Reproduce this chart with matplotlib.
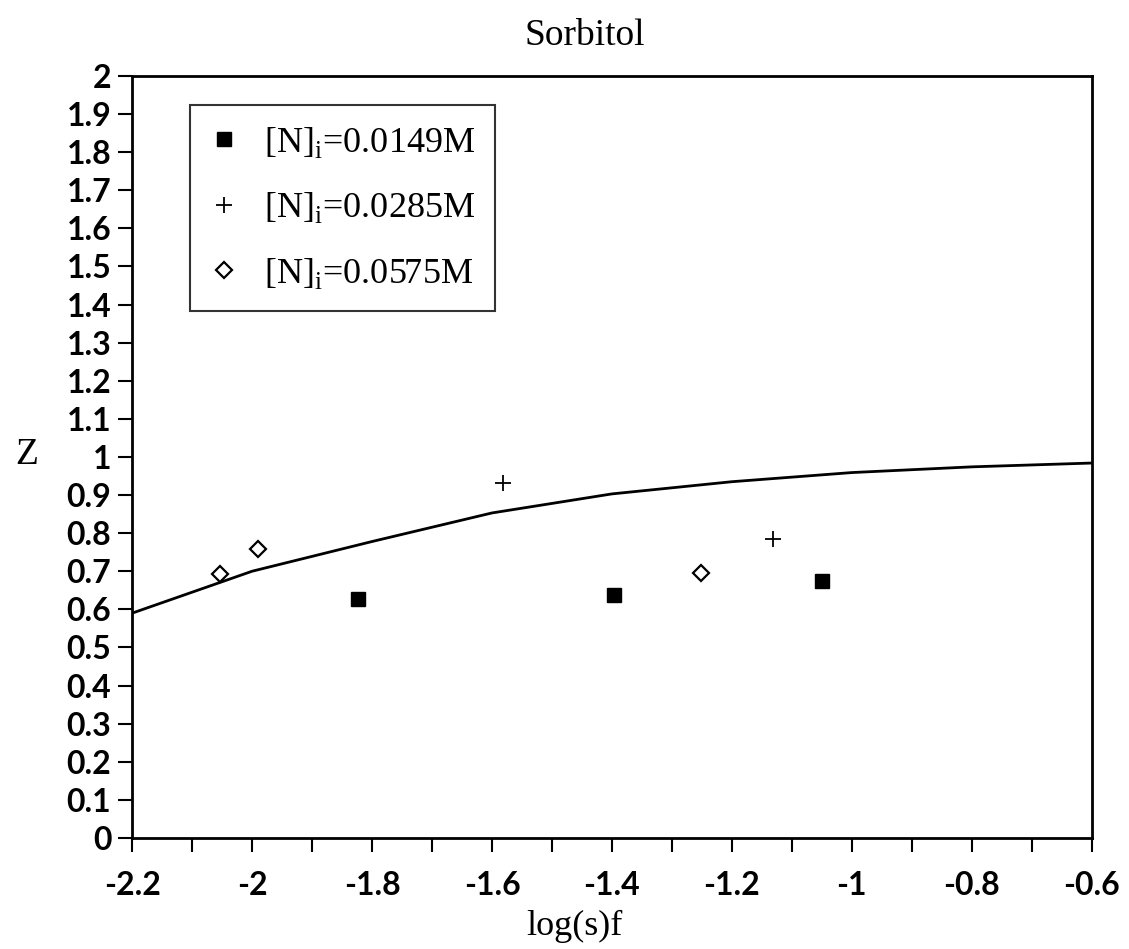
import matplotlib
matplotlib.use("Agg")
import matplotlib.pyplot as plt
from matplotlib.ticker import FixedLocator

# Data
sq_x = [-1.823, -1.397, -1.050]
sq_y = [0.627, 0.638, 0.675]
plus_x = [-1.582, -1.132]
plus_y = [0.932, 0.785]
dia_x = [-2.053, -1.990, -1.252]
dia_y = [0.693, 0.759, 0.696]
curve_x = [-2.2, -2.0, -1.8, -1.6, -1.4, -1.2, -1.0, -0.8, -0.6]
curve_y = [0.590, 0.700, 0.778, 0.853, 0.903, 0.935, 0.959, 0.974, 0.984]

x_major = [-2.2, -2.0, -1.8, -1.6, -1.4, -1.2, -1.0, -0.8, -0.6]
x_minor = [-2.1, -1.9, -1.7, -1.5, -1.3, -1.1, -0.9, -0.7]
x_ticklabels = ['-2.2', '-2', '-1.8', '-1.6', '-1.4', '-1.2', '-1', '-0.8', '-0.6']
y_ticks = [i / 10 for i in range(0, 21)]
y_ticklabels = ['%g' % v for v in y_ticks]

labels = [r"[N]$_\mathregular{i}$=0.0149M",
          r"[N]$_\mathregular{i}$=0.0285M",
          r"[N]$_\mathregular{i}$=0.0575M"]

serif = ["Liberation Serif", "DejaVu Serif"]
plt.rcParams['mathtext.fontset'] = 'custom'
plt.rcParams['mathtext.rm'] = 'Liberation Serif'

fig = plt.figure(figsize=(11.29, 9.49), dpi=100)
ax = fig.add_axes([0.117, 0.117, 0.850, 0.803])

ax.plot(curve_x, curve_y, color='black', lw=2.0)
h1, = ax.plot(sq_x, sq_y, 's', color='black', ms=10, ls='none', label=labels[0])
h2, = ax.plot(plus_x, plus_y, '+', color='black', ms=11, mew=1.3, ls='none', label=labels[1])
h3, = ax.plot(dia_x, dia_y, 'D', mfc='white', mec='black', ms=8, mew=1.6, ls='none', label=labels[2])

ax.set_xlim(-2.2, -0.6)
ax.set_ylim(0, 2)

ax.xaxis.set_major_locator(FixedLocator(x_major))
ax.xaxis.set_minor_locator(FixedLocator(x_minor))
ax.set_xticklabels(x_ticklabels)
ax.set_yticks(y_ticks)
ax.set_yticklabels(y_ticklabels)

ax.tick_params(axis='both', which='both', direction='out', length=10, width=1.5, labelsize=23)
ax.tick_params(axis='y', pad=5)
ax.tick_params(axis='x', pad=14)
for lab in ax.get_xticklabels() + ax.get_yticklabels():
    lab.set_fontfamily(["Lato", "DejaVu Sans"])
    lab.set_fontweight('bold')

for s in ax.spines.values():
    s.set_linewidth(2.0)

fig.text(585 / 1129, 1 - 36 / 949, "Sorbitol", fontsize=27, family=serif, ha='center', va='center')
fig.text(574 / 1129, 1 - 926 / 949, "log(s)f", fontsize=26, family=serif, ha='center', va='center')
fig.text(27 / 1129, 1 - 455 / 949, "Z", fontsize=27, family=serif, ha='center', va='center')

leg = ax.legend(handles=[h1, h2, h3], loc='upper left', bbox_to_anchor=(0.060, 0.962),
                borderaxespad=0.0,
                prop={'family': serif, 'size': 26}, frameon=True, fancybox=False,
                edgecolor='black', handletextpad=0.7, borderpad=0.55, labelspacing=0.85,
                handlelength=0.8)
leg.get_frame().set_linewidth(1.5)

fig.savefig("out.png", dpi=100, facecolor='white')
